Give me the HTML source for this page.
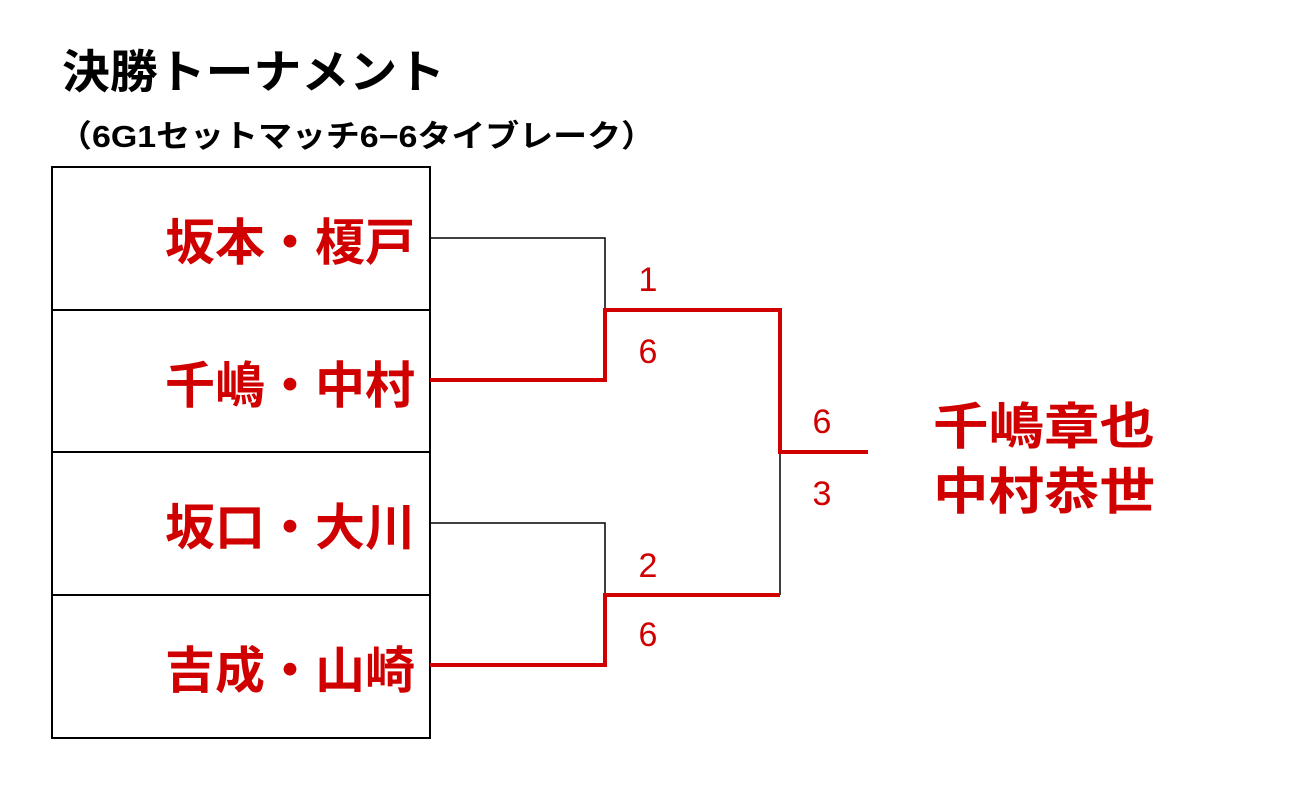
<!DOCTYPE html>
<html><head><meta charset="utf-8"><style>
html,body{margin:0;padding:0;background:#fff;}
svg text{font-family:"Liberation Sans","Noto Sans CJK JP",sans-serif;font-weight:bold;}
svg text.n{font-weight:normal;}
</style></head><body>
<svg width="1300" height="791" viewBox="0 0 1300 791" xmlns="http://www.w3.org/2000/svg">
<text x="62" y="88" font-size="46" fill="#000" textLength="383" lengthAdjust="spacingAndGlyphs">決勝トーナメント</text>
<text x="58" y="147" font-size="31" fill="#000" textLength="597" lengthAdjust="spacingAndGlyphs">（6G1セットマッチ6−6タイブレーク）</text>
<rect x="52" y="167" width="378" height="571" fill="none" stroke="#000" stroke-width="2"/>
<line x1="52" y1="310" x2="430" y2="310" stroke="#000" stroke-width="2"/>
<line x1="52" y1="452" x2="430" y2="452" stroke="#000" stroke-width="2"/>
<line x1="52" y1="595" x2="430" y2="595" stroke="#000" stroke-width="2"/>
<g font-size="50" fill="#d00000">
<text x="165" y="260" textLength="250" lengthAdjust="spacingAndGlyphs">坂本・榎戸</text>
<text x="165" y="403" textLength="250" lengthAdjust="spacingAndGlyphs">千嶋・中村</text>
<text x="165" y="545" textLength="250" lengthAdjust="spacingAndGlyphs">坂口・大川</text>
<text x="165" y="688" textLength="250" lengthAdjust="spacingAndGlyphs">吉成・山崎</text>
</g>
<g fill="none" stroke="#000" stroke-width="1.5">
<polyline points="430,238 605,238 605,310"/>
<polyline points="430,523 605,523 605,595"/>
<polyline points="780,452 780,595"/>
</g>
<g fill="none" stroke="#d00000" stroke-width="4">
<polyline points="430,380 605,380 605,310 780,310 780,452 868,452"/>
<polyline points="430,665 605,665 605,595 780,595"/>
</g>
<g font-size="34" fill="#d00000" text-anchor="middle">
<text class="n" x="648" y="291">1</text>
<text class="n" x="648" y="363">6</text>
<text class="n" x="648" y="577">2</text>
<text class="n" x="648" y="646">6</text>
<text class="n" x="822" y="433">6</text>
<text class="n" x="822" y="505">3</text>
</g>
<g font-size="50" fill="#d00000">
<text x="933" y="444" textLength="222" lengthAdjust="spacingAndGlyphs">千嶋章也</text>
<text x="933" y="509" textLength="222" lengthAdjust="spacingAndGlyphs">中村恭世</text>
</g>
</svg>
</body></html>
